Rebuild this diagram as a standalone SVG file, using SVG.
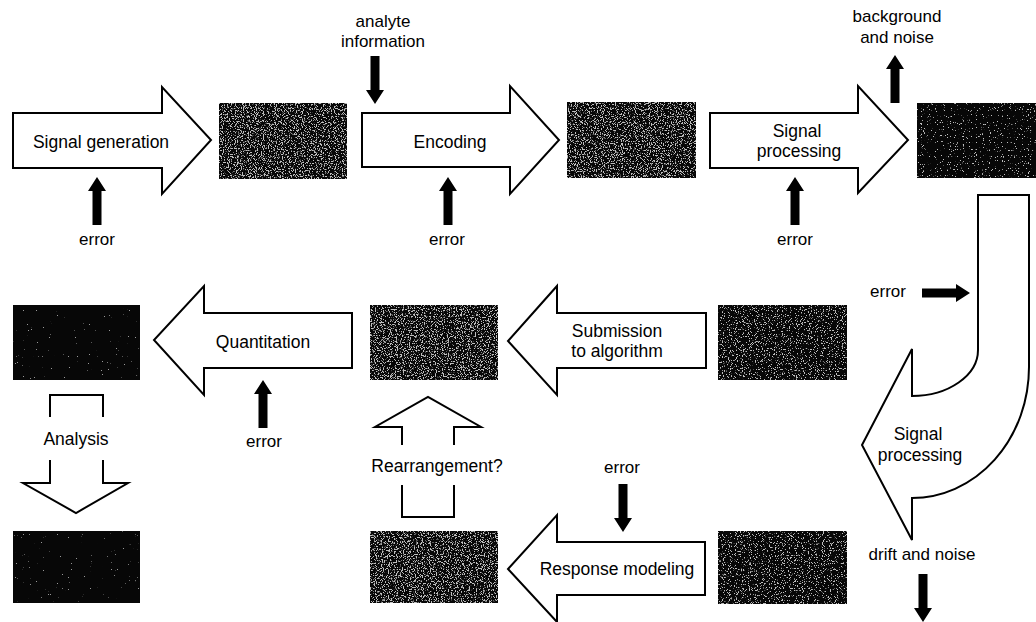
<svg xmlns="http://www.w3.org/2000/svg" width="1036" height="622" viewBox="0 0 1036 622">
  <style>
    text { font-family: "Liberation Sans", Arial, sans-serif; fill: #000; text-anchor: middle; }
    .lbl { font-size: 17.5px; }
    .sm { font-size: 17px; }
    .step { fill: #fff; stroke: #000; stroke-width: 2; stroke-linejoin: miter; }
    .open { fill: none; stroke: #000; stroke-width: 2; }
    .data { fill: #070707; }
    .pin { fill: #000; }
  </style>
  <defs>
    <!-- speckled image tiles: light grain over black -->
    <filter id="grainDense" x="0" y="0" width="1" height="1" color-interpolation-filters="sRGB">
      <feTurbulence type="fractalNoise" baseFrequency="0.85" numOctaves="2" seed="4" result="n"/>
      <feColorMatrix in="n" type="matrix" values="0 0 0 0 0.75  0 0 0 0 0.75  0 0 0 0 0.75  12 0 0 0 -6.5" result="d"/>
      <feMerge><feMergeNode in="SourceGraphic"/><feMergeNode in="d"/></feMerge>
    </filter>
    <filter id="grainMed" x="0" y="0" width="1" height="1" color-interpolation-filters="sRGB">
      <feTurbulence type="fractalNoise" baseFrequency="0.85" numOctaves="2" seed="9" result="n"/>
      <feColorMatrix in="n" type="matrix" values="0 0 0 0 0.75  0 0 0 0 0.75  0 0 0 0 0.75  14 0 0 0 -8.3" result="d"/>
      <feMerge><feMergeNode in="SourceGraphic"/><feMergeNode in="d"/></feMerge>
    </filter>
    <filter id="grainSparse" x="0" y="0" width="1" height="1" color-interpolation-filters="sRGB">
      <feTurbulence type="fractalNoise" baseFrequency="0.85" numOctaves="2" seed="17" result="n"/>
      <feColorMatrix in="n" type="matrix" values="0 0 0 0 0.75  0 0 0 0 0.75  0 0 0 0 0.75  16 0 0 0 -10.6" result="d"/>
      <feMerge><feMergeNode in="SourceGraphic"/><feMergeNode in="d"/></feMerge>
    </filter>
    <filter id="grainFaint" x="0" y="0" width="1" height="1" color-interpolation-filters="sRGB">
      <feTurbulence type="fractalNoise" baseFrequency="0.85" numOctaves="2" seed="23" result="n"/>
      <feColorMatrix in="n" type="matrix" values="0 0 0 0 0.6  0 0 0 0 0.6  0 0 0 0 0.6  20 0 0 0 -15.4" result="d"/>
      <feMerge><feMergeNode in="SourceGraphic"/><feMergeNode in="d"/></feMerge>
    </filter>
    <!-- solid pointer, tip at origin, pointing up -->
    <path id="pointer" d="M0,0 L9,14 L4.5,14 L4.5,48 L-4.5,48 L-4.5,14 L-9,14 Z"/>
  </defs>

  <!-- data tiles -->
  <g id="tile-raw"><rect class="data" x="219" y="103" width="128" height="76" filter="url(#grainDense)"/></g>
  <g id="tile-encoded"><rect class="data" x="567" y="102" width="129" height="76" filter="url(#grainDense)"/></g>
  <g id="tile-processed"><rect class="data" x="917" y="103" width="119" height="75" filter="url(#grainSparse)"/></g>
  <g id="tile-corrected"><rect class="data" x="718" y="305" width="129" height="75" filter="url(#grainMed)"/></g>
  <g id="tile-submitted"><rect class="data" x="370" y="305" width="128" height="75" filter="url(#grainDense)"/></g>
  <g id="tile-quantified"><rect class="data" x="13" y="305" width="127" height="75" filter="url(#grainFaint)"/></g>
  <g id="tile-result"><rect class="data" x="13" y="531" width="127" height="72" filter="url(#grainFaint)"/></g>
  <g id="tile-modeled"><rect class="data" x="370" y="531" width="128" height="72" filter="url(#grainDense)"/></g>
  <g id="tile-drifted"><rect class="data" x="718" y="531" width="129" height="73" filter="url(#grainMed)"/></g>

  <!-- process steps -->
  <g id="step-signal-generation">
    <path class="step" d="M13,113 L162,113 L162,87 L211,140 L162,194 L162,168 L13,168 Z"/>
    <text class="lbl" x="101" y="148">Signal generation</text>
  </g>
  <g id="step-encoding">
    <path class="step" d="M362,113 L510,113 L510,86 L559,140 L510,194 L510,167 L362,167 Z"/>
    <text class="lbl" x="450" y="148">Encoding</text>
  </g>
  <g id="step-signal-processing-1">
    <path class="step" d="M710,113 L858,113 L858,86 L908,140 L858,193 L858,168 L710,168 Z"/>
    <text class="lbl" x="797" y="137">Signal</text>
    <text class="lbl" x="799" y="157">processing</text>
  </g>
  <g id="step-signal-processing-2">
    <path class="step" d="M978,195 L1029,195 L1029,367 A117,131 0 0 1 912,498 L912,540 L862,445 L912,349 L912,396 A66,46 0 0 0 978,350 Z"/>
    <text class="lbl" x="918" y="440">Signal</text>
    <text class="lbl" x="920" y="461">processing</text>
  </g>
  <g id="step-submission">
    <path class="step" d="M706,313 L557,313 L557,286 L508,341 L557,395 L557,368 L706,368 Z"/>
    <text class="lbl" x="617" y="337">Submission</text>
    <text class="lbl" x="617" y="357">to algorithm</text>
  </g>
  <g id="step-quantitation">
    <path class="step" d="M352,313 L204,313 L204,286 L154,340 L204,395 L204,368 L352,368 Z"/>
    <text class="lbl" x="263" y="348">Quantitation</text>
  </g>
  <g id="step-response-modeling">
    <path class="step" d="M705,542 L557,542 L557,515 L508,569 L557,622 L557,595 L705,595 Z"/>
    <text class="lbl" x="617" y="575">Response modeling</text>
  </g>
  <g id="step-rearrangement">
    <path class="step" d="M402,445 L402,427 L375,427 L428,397 L481,427 L454,427 L454,445"/>
    <path class="open" d="M402,485 L402,517 L454,517 L454,485"/>
    <text class="lbl" x="437" y="472">Rearrangement?</text>
  </g>
  <g id="step-analysis">
    <path class="open" d="M50,417 L50,395 L103,395 L103,417"/>
    <path class="step" d="M50,460 L50,483 L23,483 L76,513 L128,483 L103,483 L103,460"/>
    <text class="lbl" x="76" y="445">Analysis</text>
  </g>

  <!-- influences acting on each step -->
  <g id="connectors">
    <use href="#pointer" class="pin" transform="translate(97,177)"/>
    <use href="#pointer" class="pin" transform="translate(448,177)"/>
    <use href="#pointer" class="pin" transform="translate(795,177)"/>
    <use href="#pointer" class="pin" transform="translate(375,104) rotate(180)"/>
    <use href="#pointer" class="pin" transform="translate(895,55)"/>
    <use href="#pointer" class="pin" transform="translate(970,293) rotate(90)"/>
    <use href="#pointer" class="pin" transform="translate(623,532) rotate(180)"/>
    <use href="#pointer" class="pin" transform="translate(263,380)"/>
    <use href="#pointer" class="pin" transform="translate(923,622) rotate(180)"/>
  </g>

  <g id="labels">
    <text class="sm" x="383" y="27">analyte</text>
    <text class="sm" x="383" y="47">information</text>
    <text class="sm" x="897" y="22">background</text>
    <text class="sm" x="897" y="43">and noise</text>
    <text class="sm" x="97" y="245">error</text>
    <text class="sm" x="447" y="245">error</text>
    <text class="sm" x="795" y="245">error</text>
    <text class="sm" x="888" y="297">error</text>
    <text class="sm" x="264" y="447">error</text>
    <text class="sm" x="622" y="473">error</text>
    <text class="sm" x="922" y="560">drift and noise</text>
  </g>
</svg>
